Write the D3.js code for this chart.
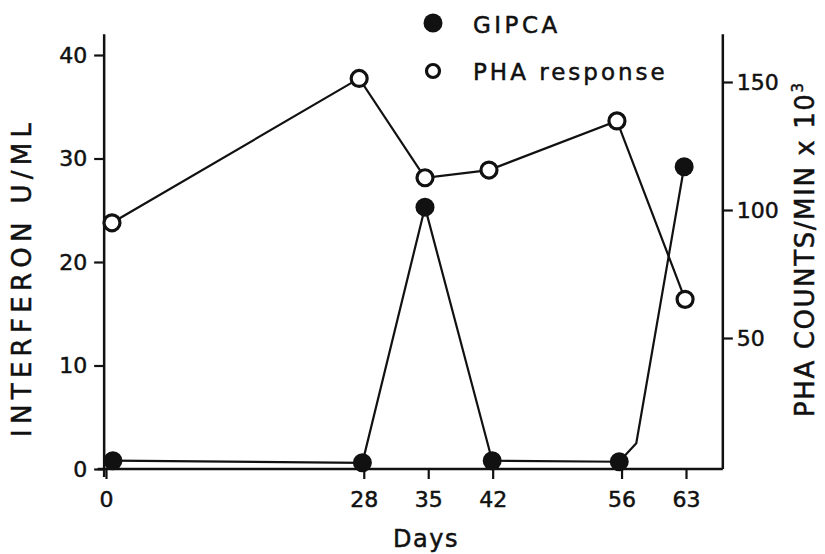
<!DOCTYPE html>
<html>
<head>
<meta charset="utf-8">
<script src="https://cdn.jsdelivr.net/npm/d3@7"></script>
<style>
  body { margin: 0; background: #fff; }
  text { font-family: "DejaVu Sans", sans-serif; fill: #111; stroke: #111; stroke-width: 0.5px; }
</style>
</head>
<body>
<svg id="chart" width="825" height="554"></svg>
<script>
// values
const dayTicks = [0, 28, 35, 42, 56, 63];
const leftTicks = [0, 10, 20, 30, 40];
const rightTicks = [50, 100, 150];

const gipcaDays = [0.75, 27.85, 34.65, 41.95, 55.75, 62.8];
const gipcaValues = [0.8, 0.6, 25.3, 0.8, 0.7, 29.2];
const gipcaBend = [57.6, 2.5]; // kink in the drawn line just after day 56

const phaDays = [0.65, 27.5, 34.65, 41.6, 55.5, 62.9];
const phaValues = [95, 151.4, 112.6, 115.6, 134.8, 65.1];

(function() {
    var svg = d3.select("#chart");

    var x = d3.scaleLinear().domain([0, 63]).range([106, 686]);
    var yL = d3.scaleLinear().domain([0, 40]).range([469, 55]);
    var yR = d3.scaleLinear().domain([0, 150]).range([466, 82]);

    var leftX = x(-0.2), rightX = x(67), bottomY = yL(0), topY = yL(42);

    // axis lines
    svg.append("line")
        .attr("x1", leftX).attr("x2", leftX).attr("y1", topY).attr("y2", bottomY + 8)
        .attr("stroke", "#111").attr("stroke-width", 2.5);
    svg.append("line")
        .attr("x1", rightX).attr("x2", rightX).attr("y1", topY).attr("y2", bottomY)
        .attr("stroke", "#111").attr("stroke-width", 2.5);
    svg.append("line")
        .attr("x1", x(-0.9)).attr("x2", rightX).attr("y1", bottomY).attr("y2", bottomY)
        .attr("stroke", "#111").attr("stroke-width", 2.5);

    // ticks
    var styleAxis = (g) => {
        g.select(".domain").remove();
        g.selectAll(".tick line").attr("stroke", "#111").attr("stroke-width", 2.2);
        g.selectAll(".tick text").attr("fill", "#111")
            .style("font-family", "DejaVu Sans, sans-serif").style("font-size", "22px");
    };

    svg.append("g")
        .attr("transform", `translate(${leftX},0)`)
        .call(d3.axisLeft(yL).tickValues(leftTicks).tickSize(10).tickPadding(7))
        .call(styleAxis);

    svg.append("g")
        .attr("transform", `translate(${rightX},0)`)
        .call(d3.axisRight(yR).tickValues(rightTicks).tickSize(10).tickPadding(4))
        .call(styleAxis);

    svg.append("g")
        .attr("transform", `translate(0,${bottomY})`)
        .call(d3.axisBottom(x).tickValues(dayTicks).tickSize(10).tickPadding(12))
        .call(styleAxis);

    // axis titles
    svg.append("text")
        .attr("transform", "translate(31,280) rotate(-90)")
        .attr("text-anchor", "middle")
        .attr("textLength", 314).attr("lengthAdjust", "spacing")
        .style("font-size", "26px")
        .text("INTERFERON U/ML");

    var rt = svg.append("text")
        .attr("transform", "translate(814,250) rotate(-90)")
        .attr("text-anchor", "middle")
        .attr("textLength", 334).attr("lengthAdjust", "spacing")
        .style("font-size", "26px");
    rt.append("tspan").text("PHA COUNTS/MIN x 10");
    rt.append("tspan").attr("dy", -11).style("font-size", "15px").text("3");

    svg.append("text")
        .attr("x", 426).attr("y", 547)
        .attr("text-anchor", "middle")
        .style("font-size", "24px").style("letter-spacing", "1.5px")
        .text("Days");

    // lines
    var gipca = gipcaDays.map((d, i) => ({day: d, value: gipcaValues[i]}));
    var pha = phaDays.map((d, i) => ({day: d, value: phaValues[i]}));
    var gipcaPath = gipca.slice(0, 5)
        .concat([{day: gipcaBend[0], value: gipcaBend[1]}])
        .concat(gipca.slice(5));

    svg.append("path")
        .datum(gipcaPath)
        .attr("fill", "none").attr("stroke", "#111").attr("stroke-width", 2.2)
        .attr("d", d3.line().x((d) => x(d.day)).y((d) => yL(d.value)));

    svg.append("path")
        .datum(pha)
        .attr("fill", "none").attr("stroke", "#111").attr("stroke-width", 2.2)
        .attr("d", d3.line().x((d) => x(d.day)).y((d) => yR(d.value)));

    // markers
    svg.append("g").selectAll("circle")
        .data(gipca)
        .join("circle")
            .attr("cx", (d) => x(d.day))
            .attr("cy", (d) => yL(d.value))
            .attr("r", 9.5)
            .attr("fill", "#111");

    svg.append("g").selectAll("circle")
        .data(pha)
        .join("circle")
            .attr("cx", (d) => x(d.day))
            .attr("cy", (d) => yR(d.value))
            .attr("r", 8)
            .attr("fill", "#fff")
            .attr("stroke", "#111").attr("stroke-width", 3.2);

    // legend
    var legend = svg.append("g").attr("transform", "translate(433,23)");
    legend.append("circle").attr("r", 9.5).attr("fill", "#111");
    legend.append("text").attr("x", 40).attr("y", 10)
        .style("font-size", "23px").style("letter-spacing", "3.5px")
        .text("GIPCA");
    legend.append("circle").attr("cy", 48).attr("r", 6.5)
        .attr("fill", "#fff").attr("stroke", "#111").attr("stroke-width", 3.2);
    legend.append("text").attr("x", 40).attr("y", 57)
        .style("font-size", "23px").style("letter-spacing", "3px")
        .text("PHA response");
})();
</script>
</body>
</html>
